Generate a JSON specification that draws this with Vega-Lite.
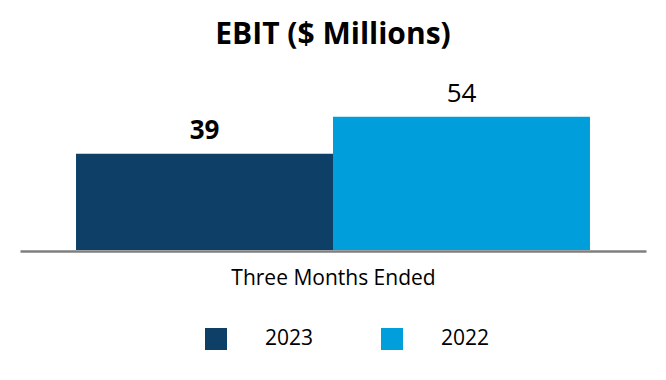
{
  "$schema": "https://vega.github.io/schema/vega-lite/v6.json",
  "width": 626,
  "height": 180,
  "autosize": {"type": "none"},
  "padding": {"left": 20, "top": 70, "right": 20, "bottom": 130},
  "background": "white",
  "config": {
    "font": "Open Sans",
    "view": {"stroke": null}
  },
  "title": {
    "text": "EBIT ($ Millions)",
    "fontSize": 30,
    "fontWeight": "bold",
    "color": "#000000",
    "anchor": "middle",
    "offset": 20
  },
  "data": {
    "values": [
      {"period": "Three Months Ended", "year": "2023", "value": 39},
      {"period": "Three Months Ended", "year": "2022", "value": 54}
    ]
  },
  "encoding": {
    "x": {
      "field": "year",
      "type": "nominal",
      "sort": ["2023", "2022"],
      "scale": {"paddingInner": 0, "paddingOuter": 0.218},
      "axis": {
        "title": "Three Months Ended",
        "labels": false,
        "ticks": false,
        "offset": 1,
        "domainColor": "#7F7F7F",
        "domainWidth": 2.5,
        "titleFont": "Open Sans",
        "titleFontSize": 21,
        "titleFontWeight": "normal",
        "titleColor": "#000000",
        "titlePadding": 16
      }
    },
    "y": {
      "field": "value",
      "type": "quantitative",
      "scale": {"domain": [0, 73], "nice": false},
      "axis": null
    }
  },
  "layer": [
    {
      "mark": {"type": "bar"},
      "encoding": {
        "color": {
          "field": "year",
          "type": "nominal",
          "sort": ["2023", "2022"],
          "scale": {"domain": ["2023", "2022"], "range": ["#0E3F66", "#009FDB"]},
          "legend": {
            "title": null,
            "orient": "none",
            "direction": "horizontal",
            "legendX": 185,
            "legendY": 258,
            "symbolType": "square",
            "symbolSize": 484,
            "symbolStrokeWidth": 0,
            "labelFontSize": 21,
            "labelFont": "Open Sans",
            "labelColor": "#000000",
            "labelOffset": 38,
            "columnPadding": 67,
            "padding": 0
          }
        }
      }
    },
    {
      "transform": [{"filter": "datum.year === '2023'"}],
      "mark": {"type": "text", "dy": -15, "baseline": "alphabetic", "fontSize": 26, "fontWeight": "bold", "color": "#000000"},
      "encoding": {"text": {"field": "value", "type": "quantitative"}}
    },
    {
      "transform": [{"filter": "datum.year === '2022'"}],
      "mark": {"type": "text", "dy": -15, "baseline": "alphabetic", "fontSize": 26, "fontWeight": "normal", "color": "#000000"},
      "encoding": {"text": {"field": "value", "type": "quantitative"}}
    }
  ]
}
